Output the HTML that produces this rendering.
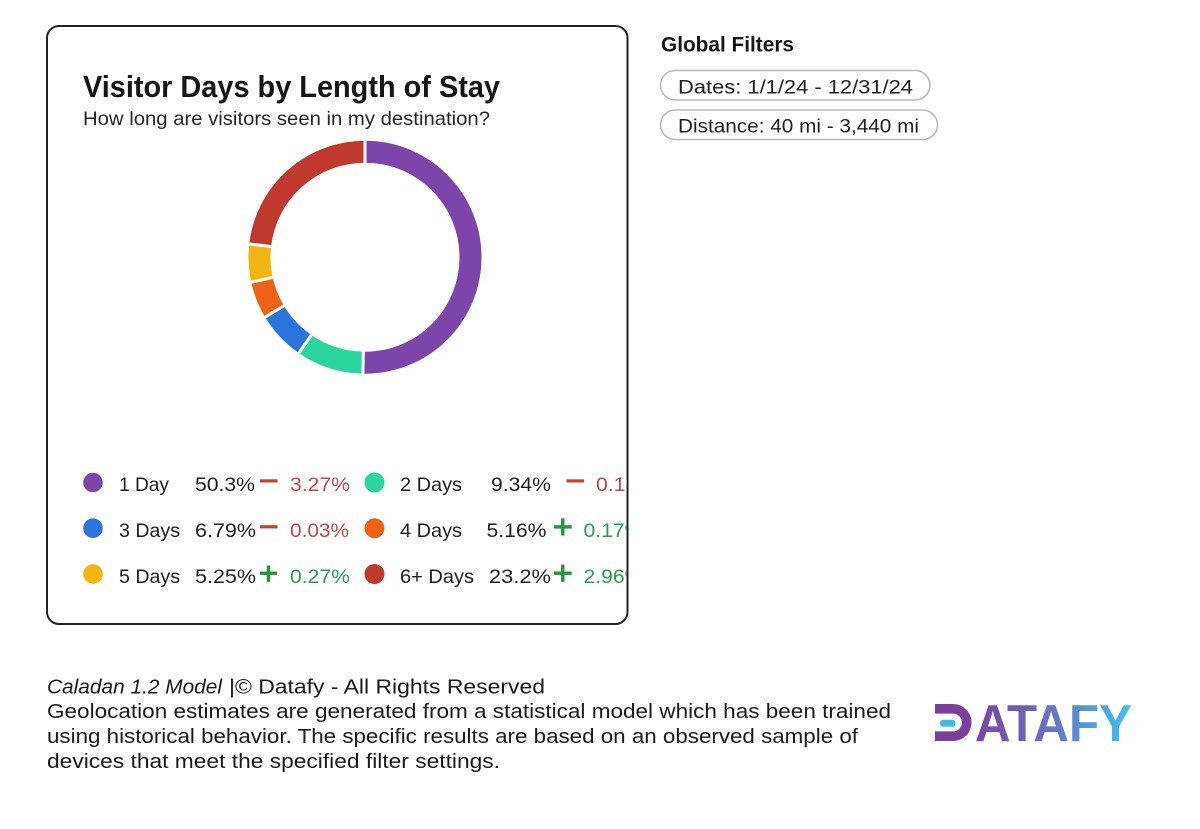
<!DOCTYPE html>
<html>
<head>
<meta charset="utf-8">
<style>
  html, body { margin: 0; padding: 0; background: #ffffff; }
  svg { display: block; }
  text { font-family: "Liberation Sans", "DejaVu Sans", sans-serif; }
</style>
</head>
<body>
<svg width="1200" height="829" viewBox="0 0 1200 829" xmlns="http://www.w3.org/2000/svg">
  <defs>
    <clipPath id="cardclip">
      <rect x="48" y="27" width="579" height="596" rx="11"/>
    </clipPath>
    <linearGradient id="logograd" gradientUnits="userSpaceOnUse" x1="975" y1="0" x2="1132" y2="0">
      <stop offset="0" stop-color="#7a44a6"/>
      <stop offset="0.45" stop-color="#6a6fbf"/>
      <stop offset="1" stop-color="#3fc2f0"/>
    </linearGradient>
  </defs>

  <rect x="0" y="0" width="1200" height="829" fill="#ffffff"/>

  <!-- Card -->
  <rect x="47" y="26" width="580.5" height="598" rx="12" fill="#ffffff" stroke="#222222" stroke-width="2"/>

  <!-- Title -->
  <text x="83" y="97" font-size="31" font-weight="bold" fill="#161616" textLength="417" lengthAdjust="spacingAndGlyphs">Visitor Days by Length of Stay</text>
  <text x="83" y="125" font-size="19.5" fill="#262626" textLength="407" lengthAdjust="spacingAndGlyphs">How long are visitors seen in my destination?</text>

  <!-- Donut -->
  <g fill="none" stroke-width="22" transform="rotate(-90 365 257.2)">
    <circle cx="365" cy="257.2" r="105.5" stroke="#7d45a9" stroke-dasharray="333.29 662.87" stroke-dashoffset="0"/>
    <circle cx="365" cy="257.2" r="105.5" stroke="#2bd59d" stroke-dasharray="61.90 662.87" stroke-dashoffset="-333.29"/>
    <circle cx="365" cy="257.2" r="105.5" stroke="#2b74da" stroke-dasharray="45.00 662.87" stroke-dashoffset="-395.19"/>
    <circle cx="365" cy="257.2" r="105.5" stroke="#ec6316" stroke-dasharray="34.18 662.87" stroke-dashoffset="-440.19"/>
    <circle cx="365" cy="257.2" r="105.5" stroke="#f1b60f" stroke-dasharray="34.80 662.87" stroke-dashoffset="-474.37"/>
    <circle cx="365" cy="257.2" r="105.5" stroke="#c0392f" stroke-dasharray="153.70 662.87" stroke-dashoffset="-509.17"/>
  </g>
  <g stroke="#ffffff" stroke-width="3">
    <line x1="365" y1="163" x2="365" y2="138" transform="rotate(0 365 257.2)"/>
    <line x1="365" y1="163" x2="365" y2="138" transform="rotate(181.01 365 257.2)"/>
    <line x1="365" y1="163" x2="365" y2="138" transform="rotate(214.62 365 257.2)"/>
    <line x1="365" y1="163" x2="365" y2="138" transform="rotate(239.06 365 257.2)"/>
    <line x1="365" y1="163" x2="365" y2="138" transform="rotate(257.62 365 257.2)"/>
    <line x1="365" y1="163" x2="365" y2="138" transform="rotate(276.52 365 257.2)"/>
  </g>

  <!-- Legend -->
  <g clip-path="url(#cardclip)" font-size="19.5">
    <!-- Row 1 -->
    <circle cx="93" cy="482.5" r="9.8" fill="#7d45a9"/>
    <text x="119" y="491" fill="#1e1e1e" textLength="50" lengthAdjust="spacingAndGlyphs">1 Day</text>
    <text x="195" y="491" fill="#1e1e1e" textLength="60" lengthAdjust="spacingAndGlyphs">50.3%</text>
    <rect x="260" y="479.3" width="17.5" height="3.2" fill="#c4413b"/>
    <text x="290" y="491" fill="#c0474a" textLength="60" lengthAdjust="spacingAndGlyphs">3.27%</text>

    <circle cx="374.5" cy="482.5" r="10" fill="#2bd59d"/>
    <text x="400" y="491" fill="#1e1e1e" textLength="62" lengthAdjust="spacingAndGlyphs">2 Days</text>
    <text x="491" y="491" fill="#1e1e1e" textLength="60" lengthAdjust="spacingAndGlyphs">9.34%</text>
    <rect x="566.5" y="479.3" width="17.5" height="3.2" fill="#c4413b"/>
    <text x="596" y="491" fill="#c0474a" textLength="60" lengthAdjust="spacingAndGlyphs">0.19%</text>

    <!-- Row 2 -->
    <circle cx="93" cy="528.2" r="9.8" fill="#2b74da"/>
    <text x="119" y="537" fill="#1e1e1e" textLength="61" lengthAdjust="spacingAndGlyphs">3 Days</text>
    <text x="195" y="537" fill="#1e1e1e" textLength="61" lengthAdjust="spacingAndGlyphs">6.79%</text>
    <rect x="260" y="525.2" width="17.5" height="3.2" fill="#c4413b"/>
    <text x="290" y="537" fill="#c0474a" textLength="59" lengthAdjust="spacingAndGlyphs">0.03%</text>

    <circle cx="374.5" cy="528.2" r="10" fill="#ec6316"/>
    <text x="400" y="537" fill="#1e1e1e" textLength="62" lengthAdjust="spacingAndGlyphs">4 Days</text>
    <text x="486.5" y="537" fill="#1e1e1e" textLength="60" lengthAdjust="spacingAndGlyphs">5.16%</text>
    <rect x="554" y="525.2" width="17.7" height="3.4" fill="#23963f"/>
    <rect x="561.1" y="518.3" width="3.4" height="17.2" fill="#23963f"/>
    <text x="583.5" y="537" fill="#2e9a52" textLength="60" lengthAdjust="spacingAndGlyphs">0.17%</text>

    <!-- Row 3 -->
    <circle cx="93" cy="574" r="9.8" fill="#f1b60f"/>
    <text x="119" y="583" fill="#1e1e1e" textLength="61" lengthAdjust="spacingAndGlyphs">5 Days</text>
    <text x="195" y="583" fill="#1e1e1e" textLength="61" lengthAdjust="spacingAndGlyphs">5.25%</text>
    <rect x="260" y="571.5" width="17" height="3.4" fill="#23963f"/>
    <rect x="266.8" y="565.5" width="3.4" height="16.3" fill="#23963f"/>
    <text x="290" y="583" fill="#2e9a52" textLength="60" lengthAdjust="spacingAndGlyphs">0.27%</text>

    <circle cx="374.5" cy="574" r="10" fill="#c0392f"/>
    <text x="400" y="583" fill="#1e1e1e" textLength="74" lengthAdjust="spacingAndGlyphs">6+ Days</text>
    <text x="489" y="583" fill="#1e1e1e" textLength="62" lengthAdjust="spacingAndGlyphs">23.2%</text>
    <rect x="554" y="571.5" width="17.7" height="3.4" fill="#23963f"/>
    <rect x="561.1" y="564.6" width="3.4" height="17.2" fill="#23963f"/>
    <text x="583.5" y="583" fill="#2e9a52" textLength="60" lengthAdjust="spacingAndGlyphs">2.96%</text>
  </g>

  <!-- Global Filters -->
  <text x="661" y="51.5" font-size="21" font-weight="bold" fill="#161616" textLength="133" lengthAdjust="spacingAndGlyphs">Global Filters</text>
  <rect x="660.5" y="70.5" width="269.5" height="29.5" rx="14.75" fill="#ffffff" stroke="#b8b8b8" stroke-width="1.5"/>
  <text x="678" y="93.3" font-size="19.5" fill="#1e1e1e" textLength="235" lengthAdjust="spacingAndGlyphs">Dates: 1/1/24 - 12/31/24</text>
  <rect x="660.5" y="110" width="277" height="29.5" rx="14.75" fill="#ffffff" stroke="#b8b8b8" stroke-width="1.5"/>
  <text x="678" y="132.7" font-size="19.5" fill="#1e1e1e" textLength="241" lengthAdjust="spacingAndGlyphs">Distance: 40 mi - 3,440 mi</text>

  <!-- Footer -->
  <g font-size="20" fill="#1a1a1a">
    <text x="47" y="693.3" font-style="italic" textLength="175" lengthAdjust="spacingAndGlyphs">Caladan 1.2 Model</text>
    <text x="229" y="693.3" textLength="316" lengthAdjust="spacingAndGlyphs">|© Datafy - All Rights Reserved</text>
    <text x="47" y="718" textLength="844" lengthAdjust="spacingAndGlyphs">Geolocation estimates are generated from a statistical model which has been trained</text>
    <text x="47" y="743" textLength="811" lengthAdjust="spacingAndGlyphs">using historical behavior. The specific results are based on an observed sample of</text>
    <text x="47" y="768" textLength="453" lengthAdjust="spacingAndGlyphs">devices that meet the specified filter settings.</text>
  </g>

  <!-- Logo -->
  <path d="M935,708.8 H953 A13.7,13.7 0 0 1 953,736.2 H935" fill="none" stroke="#7a3e9d" stroke-width="9.6"/>
  <rect x="940" y="719.8" width="15.5" height="7" rx="3.2" fill="#3fb9e8"/>
  <text x="975" y="741" font-size="51.5" font-weight="bold" fill="url(#logograd)" textLength="157" lengthAdjust="spacingAndGlyphs">ATAFY</text>
</svg>
</body>
</html>
